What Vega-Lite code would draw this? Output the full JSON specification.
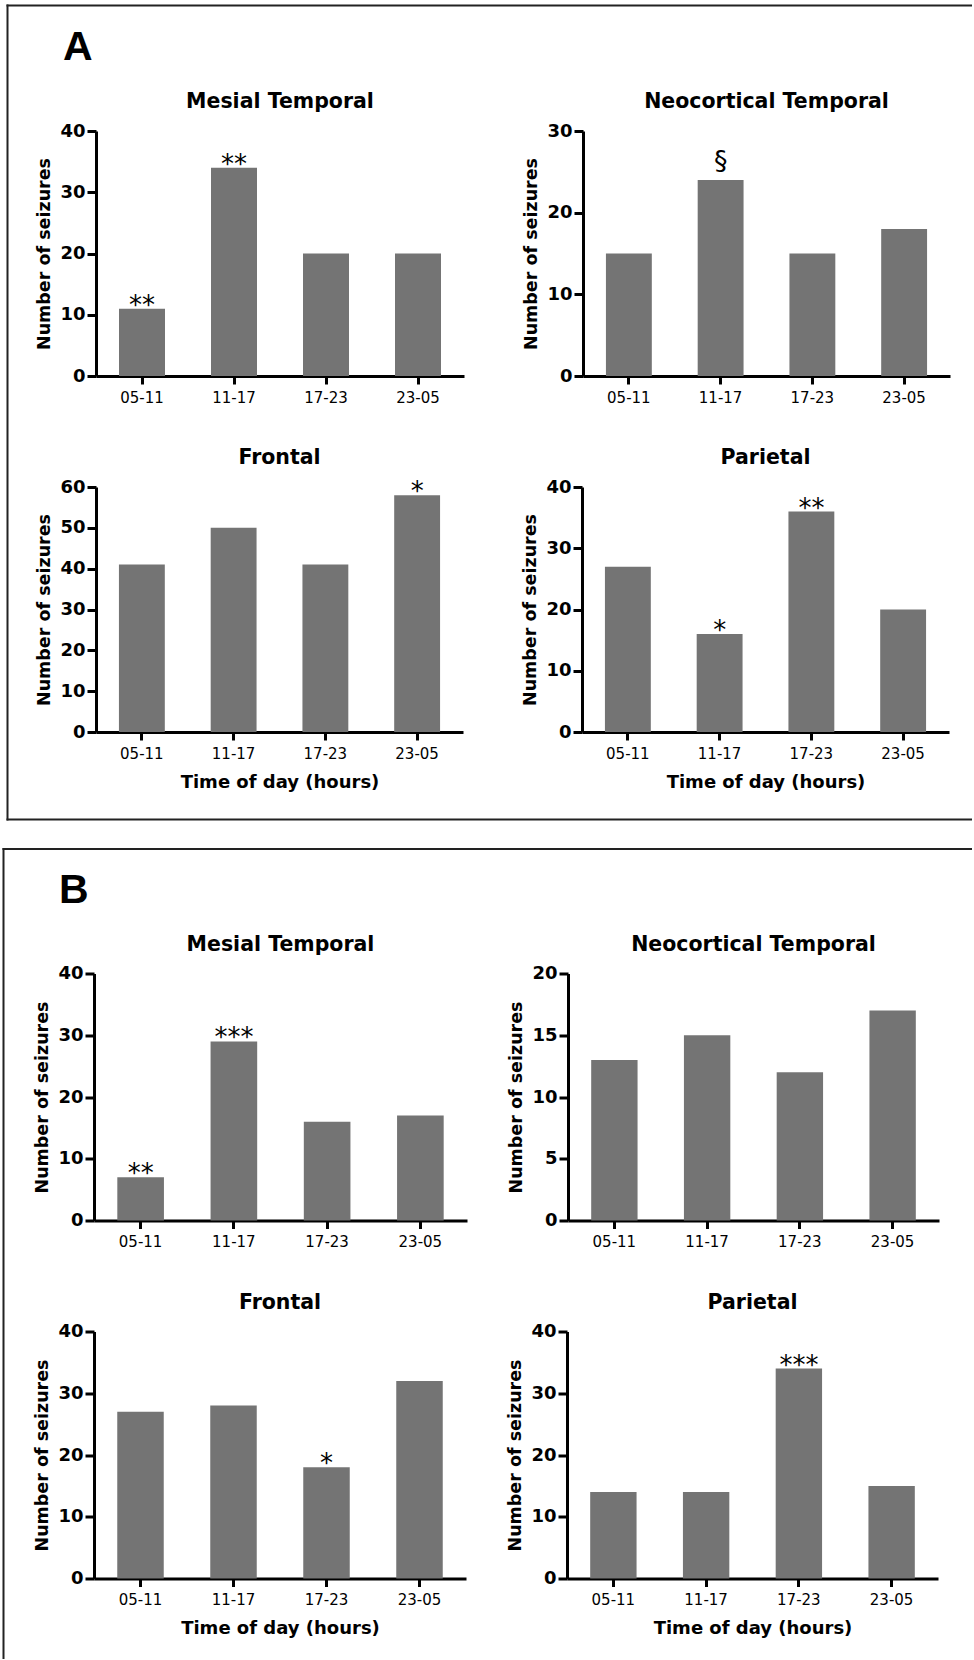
{
  "$schema": "https://vega.github.io/schema/vega-lite/v6.json",
  "background": "white",
  "padding": {"left": 3, "top": 5, "right": 0, "bottom": 0},
  "autosize": {"type": "pad"},
  "datasets": {
    "seizures": [
      {"box": "A", "region": "Mesial Temporal", "time": "05-11", "n": 11, "sig": "**"},
      {"box": "A", "region": "Mesial Temporal", "time": "11-17", "n": 34, "sig": "**"},
      {"box": "A", "region": "Mesial Temporal", "time": "17-23", "n": 20, "sig": ""},
      {"box": "A", "region": "Mesial Temporal", "time": "23-05", "n": 20, "sig": ""},
      {"box": "A", "region": "Neocortical Temporal", "time": "05-11", "n": 15, "sig": ""},
      {"box": "A", "region": "Neocortical Temporal", "time": "11-17", "n": 24, "sig": "§"},
      {"box": "A", "region": "Neocortical Temporal", "time": "17-23", "n": 15, "sig": ""},
      {"box": "A", "region": "Neocortical Temporal", "time": "23-05", "n": 18, "sig": ""},
      {"box": "A", "region": "Frontal", "time": "05-11", "n": 41, "sig": ""},
      {"box": "A", "region": "Frontal", "time": "11-17", "n": 50, "sig": ""},
      {"box": "A", "region": "Frontal", "time": "17-23", "n": 41, "sig": ""},
      {"box": "A", "region": "Frontal", "time": "23-05", "n": 58, "sig": "*"},
      {"box": "A", "region": "Parietal", "time": "05-11", "n": 27, "sig": ""},
      {"box": "A", "region": "Parietal", "time": "11-17", "n": 16, "sig": "*"},
      {"box": "A", "region": "Parietal", "time": "17-23", "n": 36, "sig": "**"},
      {"box": "A", "region": "Parietal", "time": "23-05", "n": 20, "sig": ""},
      {"box": "B", "region": "Mesial Temporal", "time": "05-11", "n": 7, "sig": "**"},
      {"box": "B", "region": "Mesial Temporal", "time": "11-17", "n": 29, "sig": "***"},
      {"box": "B", "region": "Mesial Temporal", "time": "17-23", "n": 16, "sig": ""},
      {"box": "B", "region": "Mesial Temporal", "time": "23-05", "n": 17, "sig": ""},
      {"box": "B", "region": "Neocortical Temporal", "time": "05-11", "n": 13, "sig": ""},
      {"box": "B", "region": "Neocortical Temporal", "time": "11-17", "n": 15, "sig": ""},
      {"box": "B", "region": "Neocortical Temporal", "time": "17-23", "n": 12, "sig": ""},
      {"box": "B", "region": "Neocortical Temporal", "time": "23-05", "n": 17, "sig": ""},
      {"box": "B", "region": "Frontal", "time": "05-11", "n": 27, "sig": ""},
      {"box": "B", "region": "Frontal", "time": "11-17", "n": 28, "sig": ""},
      {"box": "B", "region": "Frontal", "time": "17-23", "n": 18, "sig": "*"},
      {"box": "B", "region": "Frontal", "time": "23-05", "n": 32, "sig": ""},
      {"box": "B", "region": "Parietal", "time": "05-11", "n": 14, "sig": ""},
      {"box": "B", "region": "Parietal", "time": "11-17", "n": 14, "sig": ""},
      {"box": "B", "region": "Parietal", "time": "17-23", "n": 34, "sig": "***"},
      {"box": "B", "region": "Parietal", "time": "23-05", "n": 15, "sig": ""}
    ]
  },
  "data": {"name": "seizures"},
  "config": {
    "view": {"stroke": null},
    "font": "DejaVu Sans",
    "axis": {"grid": false, "domainColor": "black", "domainWidth": 3, "tickColor": "black", "tickWidth": 3, "labelColor": "black", "titleColor": "black", "labelFont": "DejaVu Sans", "titleFont": "DejaVu Sans"},
    "axisX": {"labelFontSize": 15, "labelFontWeight": "normal", "tickSize": 8, "labelPadding": 6, "labelAngle": 0, "titleFontSize": 18, "titleFontWeight": "bold", "titlePadding": 12},
    "axisY": {"labelFontSize": 18, "labelFontWeight": "bold", "tickSize": 9, "labelPadding": 2, "titleFontSize": 17.5, "titleFontWeight": "bold", "titlePadding": 6},
    "title": {"font": "DejaVu Sans", "fontSize": 20.5, "fontWeight": "bold", "color": "black", "anchor": "middle", "frame": "group", "baseline": "alphabetic", "offset": 9.5},
    "bar": {"color": "#747474"},
    "text": {"font": "DejaVu Sans", "color": "black"}
  },
  "spacing": 29.5,
  "vconcat": [
    {
      "spacing": 3,
      "hconcat": [
        {"width": 1, "height": 1, "data": {"values": []}, "mark": "point", "encoding": {}},
        {
          "columns": 2,
          "align": "none",
          "spacing": -936,
          "concat": [
            {
              "width": 964, "height": 814,
              "data": {"values": []},
              "title": {"text": "A", "anchor": "start", "frame": "group", "offset": 0, "dy": 96, "dx": 56, "baseline": "alphabetic", "font": "Liberation Sans", "fontSize": 41, "fontWeight": "bold"},
              "layer": [
                {"mark": "point", "encoding": {
                  "x": {"field": "v", "type": "quantitative", "scale": {"domain": [0, 1]}, "axis": {"orient": "top", "ticks": false, "labels": false, "title": null, "domainWidth": 2, "domainColor": "#222222", "domainCap": "square"}},
                  "y": {"field": "v", "type": "quantitative", "scale": {"domain": [0, 1]}, "axis": {"orient": "left", "ticks": false, "labels": false, "title": null, "domainWidth": 2, "domainColor": "#222222", "domainCap": "square"}}
                }},
                {"mark": "point", "encoding": {
                  "x": {"field": "v", "type": "quantitative", "scale": {"domain": [0, 1]}, "axis": {"orient": "bottom", "ticks": false, "labels": false, "title": null, "domainWidth": 2, "domainColor": "#222222", "domainCap": "square"}}
                }}
              ],
              "resolve": {"axis": {"x": "independent"}}
            },
            {
              "spacing": 86,
              "vconcat": [
                {"width": 1, "height": 1, "data": {"values": []}, "mark": "point", "encoding": {}},
                {
                  "spacing": 43,
                  "vconcat": [
                    {
                      "spacing": 58,
                      "hconcat": [
                        {
                          "width": 368, "height": 245,
                          "title": {"text": "Mesial Temporal"},
                          "transform": [{"filter": "datum.box === 'A' && datum.region === 'Mesial Temporal'"}],
                          "encoding": {
                            "x": {"field": "time", "type": "nominal", "sort": ["05-11", "11-17", "17-23", "23-05"], "scale": {"paddingInner": 0.5, "paddingOuter": 0.25}, "axis": {"title": null}},
                            "y": {"field": "n", "type": "quantitative", "scale": {"domain": [0, 40], "nice": false}, "axis": {"values": [0, 10, 20, 30, 40], "title": "Number of seizures"}}
                          },
                          "layer": [
                            {"mark": {"type": "bar"}},
                            {"transform": [{"filter": "datum.sig != '' && datum.sig != '§'"}], "mark": {"type": "text", "fontSize": 26, "baseline": "alphabetic", "dy": 5}, "encoding": {"text": {"field": "sig"}}}
                          ]
                        },
                        {
                          "width": 367, "height": 245,
                          "title": {"text": "Neocortical Temporal"},
                          "transform": [{"filter": "datum.box === 'A' && datum.region === 'Neocortical Temporal'"}],
                          "encoding": {
                            "x": {"field": "time", "type": "nominal", "sort": ["05-11", "11-17", "17-23", "23-05"], "scale": {"paddingInner": 0.5, "paddingOuter": 0.25}, "axis": {"title": null}},
                            "y": {"field": "n", "type": "quantitative", "scale": {"domain": [0, 30], "nice": false}, "axis": {"values": [0, 10, 20, 30], "title": "Number of seizures"}}
                          },
                          "layer": [
                            {"mark": {"type": "bar"}},
                            {"transform": [{"filter": "datum.sig == '§'"}], "mark": {"type": "text", "fontSize": 27, "baseline": "alphabetic", "dy": -10}, "encoding": {"text": {"field": "sig"}}}
                          ]
                        }
                      ]
                    },
                    {
                      "spacing": 58,
                      "hconcat": [
                        {
                          "width": 367, "height": 245,
                          "title": {"text": "Frontal"},
                          "transform": [{"filter": "datum.box === 'A' && datum.region === 'Frontal'"}],
                          "encoding": {
                            "x": {"field": "time", "type": "nominal", "sort": ["05-11", "11-17", "17-23", "23-05"], "scale": {"paddingInner": 0.5, "paddingOuter": 0.25}, "axis": {"title": "Time of day (hours)"}},
                            "y": {"field": "n", "type": "quantitative", "scale": {"domain": [0, 60], "nice": false}, "axis": {"values": [0, 10, 20, 30, 40, 50, 60], "title": "Number of seizures"}}
                          },
                          "layer": [
                            {"mark": {"type": "bar"}},
                            {"transform": [{"filter": "datum.sig != '' && datum.sig != '§'"}], "mark": {"type": "text", "fontSize": 26, "baseline": "alphabetic", "dy": 5}, "encoding": {"text": {"field": "sig"}}}
                          ]
                        },
                        {
                          "width": 367, "height": 245,
                          "title": {"text": "Parietal"},
                          "transform": [{"filter": "datum.box === 'A' && datum.region === 'Parietal'"}],
                          "encoding": {
                            "x": {"field": "time", "type": "nominal", "sort": ["05-11", "11-17", "17-23", "23-05"], "scale": {"paddingInner": 0.5, "paddingOuter": 0.25}, "axis": {"title": "Time of day (hours)"}},
                            "y": {"field": "n", "type": "quantitative", "scale": {"domain": [0, 40], "nice": false}, "axis": {"values": [0, 10, 20, 30, 40], "title": "Number of seizures"}}
                          },
                          "layer": [
                            {"mark": {"type": "bar"}},
                            {"transform": [{"filter": "datum.sig != '' && datum.sig != '§'"}], "mark": {"type": "text", "fontSize": 26, "baseline": "alphabetic", "dy": 5}, "encoding": {"text": {"field": "sig"}}}
                          ]
                        }
                      ]
                    }
                  ]
                }
              ]
            }
          ]
        }
      ]
    },
    {
      "columns": 2,
      "align": "none",
      "spacing": -939,
      "concat": [
        {
          "width": 969, "height": 810,
          "data": {"values": []},
          "title": {"text": "B", "anchor": "start", "frame": "group", "offset": 0, "dy": 95, "dx": 56, "baseline": "alphabetic", "font": "Liberation Sans", "fontSize": 41, "fontWeight": "bold"},
          "mark": "point",
          "encoding": {
            "x": {"field": "v", "type": "quantitative", "scale": {"domain": [0, 1]}, "axis": {"orient": "top", "ticks": false, "labels": false, "title": null, "domainWidth": 2, "domainColor": "#222222", "domainCap": "square"}},
            "y": {"field": "v", "type": "quantitative", "scale": {"domain": [0, 1]}, "axis": {"orient": "left", "ticks": false, "labels": false, "title": null, "domainWidth": 2, "domainColor": "#222222", "domainCap": "square"}}
          }
        },
        {
          "spacing": 85,
          "vconcat": [
            {"width": 1, "height": 1, "data": {"values": []}, "mark": "point", "encoding": {}},
            {
              "spacing": 43,
              "vconcat": [
                {
                  "spacing": 40,
                  "hconcat": [
                    {
                      "width": 373, "height": 247,
                      "title": {"text": "Mesial Temporal"},
                      "transform": [{"filter": "datum.box === 'B' && datum.region === 'Mesial Temporal'"}],
                      "encoding": {
                        "x": {"field": "time", "type": "nominal", "sort": ["05-11", "11-17", "17-23", "23-05"], "scale": {"paddingInner": 0.5, "paddingOuter": 0.25}, "axis": {"title": null}},
                        "y": {"field": "n", "type": "quantitative", "scale": {"domain": [0, 40], "nice": false}, "axis": {"values": [0, 10, 20, 30, 40], "title": "Number of seizures"}}
                      },
                      "layer": [
                        {"mark": {"type": "bar"}},
                        {"transform": [{"filter": "datum.sig != '' && datum.sig != '§'"}], "mark": {"type": "text", "fontSize": 26, "baseline": "alphabetic", "dy": 5}, "encoding": {"text": {"field": "sig"}}}
                      ]
                    },
                    {
                      "width": 371, "height": 247,
                      "title": {"text": "Neocortical Temporal"},
                      "transform": [{"filter": "datum.box === 'B' && datum.region === 'Neocortical Temporal'"}],
                      "encoding": {
                        "x": {"field": "time", "type": "nominal", "sort": ["05-11", "11-17", "17-23", "23-05"], "scale": {"paddingInner": 0.5, "paddingOuter": 0.25}, "axis": {"title": null}},
                        "y": {"field": "n", "type": "quantitative", "scale": {"domain": [0, 20], "nice": false}, "axis": {"values": [0, 5, 10, 15, 20], "title": "Number of seizures"}}
                      },
                      "layer": [
                        {"mark": {"type": "bar"}}
                      ]
                    }
                  ]
                },
                {
                  "spacing": 40,
                  "hconcat": [
                    {
                      "width": 372, "height": 247,
                      "title": {"text": "Frontal"},
                      "transform": [{"filter": "datum.box === 'B' && datum.region === 'Frontal'"}],
                      "encoding": {
                        "x": {"field": "time", "type": "nominal", "sort": ["05-11", "11-17", "17-23", "23-05"], "scale": {"paddingInner": 0.5, "paddingOuter": 0.25}, "axis": {"title": "Time of day (hours)"}},
                        "y": {"field": "n", "type": "quantitative", "scale": {"domain": [0, 40], "nice": false}, "axis": {"values": [0, 10, 20, 30, 40], "title": "Number of seizures"}}
                      },
                      "layer": [
                        {"mark": {"type": "bar"}},
                        {"transform": [{"filter": "datum.sig != '' && datum.sig != '§'"}], "mark": {"type": "text", "fontSize": 26, "baseline": "alphabetic", "dy": 5}, "encoding": {"text": {"field": "sig"}}}
                      ]
                    },
                    {
                      "width": 371, "height": 247,
                      "title": {"text": "Parietal"},
                      "transform": [{"filter": "datum.box === 'B' && datum.region === 'Parietal'"}],
                      "encoding": {
                        "x": {"field": "time", "type": "nominal", "sort": ["05-11", "11-17", "17-23", "23-05"], "scale": {"paddingInner": 0.5, "paddingOuter": 0.25}, "axis": {"title": "Time of day (hours)"}},
                        "y": {"field": "n", "type": "quantitative", "scale": {"domain": [0, 40], "nice": false}, "axis": {"values": [0, 10, 20, 30, 40], "title": "Number of seizures"}}
                      },
                      "layer": [
                        {"mark": {"type": "bar"}},
                        {"transform": [{"filter": "datum.sig != '' && datum.sig != '§'"}], "mark": {"type": "text", "fontSize": 26, "baseline": "alphabetic", "dy": 5}, "encoding": {"text": {"field": "sig"}}}
                      ]
                    }
                  ]
                }
              ]
            }
          ]
        }
      ]
    }
  ]
}
